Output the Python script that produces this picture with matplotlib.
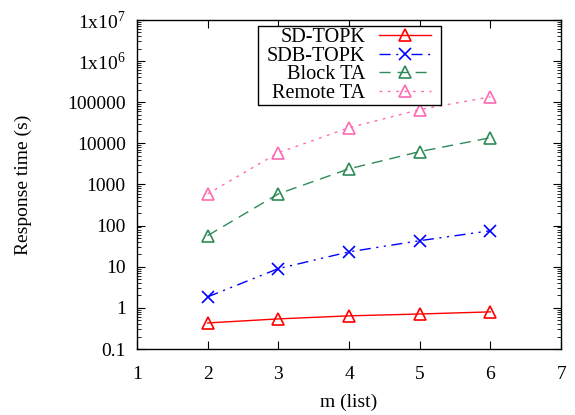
import math
import matplotlib
matplotlib.use("Agg")
import matplotlib.pyplot as plt
from matplotlib.ticker import FixedLocator, LogLocator, NullFormatter, FuncFormatter

plt.rcParams["font.family"] = ["Liberation Serif", "DejaVu Serif"]
plt.rcParams["mathtext.fontset"] = "custom"
plt.rcParams["mathtext.rm"] = "Liberation Serif"

m = [2, 3, 4, 5, 6]
sd_topk = [0.43, 0.54, 0.64, 0.71, 0.80]
sdb_topk = [1.85, 9.0, 23, 43, 75]
block_ta = [57, 590, 2400, 6300, 13700]
remote_ta = [590, 5900, 24000, 66000, 135000]

fig = plt.figure(figsize=(5.75, 4.15), dpi=100)
ax = fig.add_axes([0.238, 0.159, 0.738, 0.793])

ax.plot(m, sd_topk, color="#ff0000", lw=1, ls="-", marker="^", mfc="none",
        ms=8.5, mew=1.2, label="SD-TOPK")
ax.plot(m, sdb_topk, color="#0000ff", lw=1, ls=(0, (8, 4, 1.5, 4, 1.5, 4)), marker="x",
        ms=9, mew=1.2, label="SDB-TOPK")
ax.plot(m, block_ta, color="#2e8b57", lw=1, ls=(0, (8, 5)), marker="^", mfc="none",
        ms=8.5, mew=1.2, label="Block TA")
ax.plot(m, remote_ta, color="#ff69b4", lw=1, ls=(0, (2, 4)), marker="^", mfc="none",
        ms=8.5, mew=1.2, label="Remote TA")

ax.set_yscale("log")
ax.set_xlim(1, 7)
ax.set_ylim(0.1, 1e7)
ax.xaxis.set_major_locator(FixedLocator([1, 2, 3, 4, 5, 6, 7]))
ax.yaxis.set_major_locator(LogLocator(base=10, numticks=20))
ax.yaxis.set_minor_locator(LogLocator(base=10, subs=range(2, 10), numticks=20))
ax.yaxis.set_minor_formatter(NullFormatter())


def yfmt(v, pos):
    if v >= 1e6:
        return r"1x10$^{%d}$" % round(math.log10(v))
    if v < 1:
        return "%g" % v
    return "%d" % round(v)


ax.yaxis.set_major_formatter(FuncFormatter(yfmt))
ax.tick_params(which="both", direction="in", top=True, right=True, labelsize=14)
ax.tick_params(which="major", length=6)
ax.tick_params(which="minor", length=3)
ax.tick_params(axis="x", pad=12)
ax.tick_params(axis="y", pad=8)
for s in ax.spines.values():
    s.set_linewidth(1)

ax.set_xlabel("m (list)", fontsize=14, labelpad=8)
ax.set_ylabel("Response time (s)", fontsize=14, labelpad=25)

leg = ax.legend(loc="upper left", bbox_to_anchor=(0.302, 0.982), fontsize=14.6,
                markerfirst=False, frameon=True, fancybox=False, framealpha=1,
                edgecolor="black", handlelength=2.6, borderpad=0.1, labelspacing=-0.03,
                handletextpad=0.65, borderaxespad=0)
for t in leg.get_texts():
    t.set_ha("right")
frame = leg.get_frame()
frame.set_linewidth(1)
# wider side padding than top/bottom, like the gnuplot key box
frame.set_boxstyle("square", pad=0.36)
frame.set_mutation_aspect(0.01)

fig.savefig("out.png", dpi=100)
